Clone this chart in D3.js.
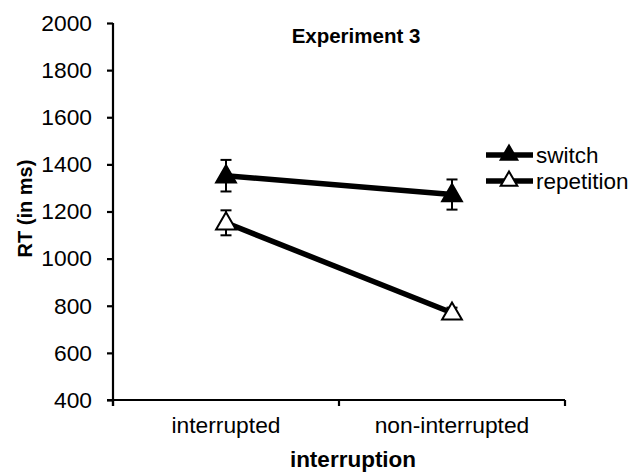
<!DOCTYPE html>
<html><head><meta charset="utf-8">
<script src="https://cdn.jsdelivr.net/npm/d3@7"></script>
<style>body{margin:0;background:#fff}svg{display:block}text{font-family:"Liberation Sans",Arial,sans-serif;fill:#000}</style>
</head><body><svg id="c" width="644" height="472"></svg>
<script>
const categories = ["interrupted", "non-interrupted"];
const seriesNames = ["switch", "repetition"];
const switchRT = [1352, 1272];
const switchErr = [67, 64];
const repetitionRT = [1152, 770];
const repetitionErr = [53, 22];
const yTicks = [400, 600, 800, 1000, 1200, 1400, 1600, 1800, 2000];

const series = [
  {name: seriesNames[0], values: switchRT, err: switchErr, fill: "#000"},
  {name: seriesNames[1], values: repetitionRT, err: repetitionErr, fill: "#fff"}
];

const svg = d3.select("#c");
const L = 113, R = 565, T = 23, B = 400;
const x = d3.scaleBand().domain(categories).range([L, R]);
const y = d3.scaleLinear().domain([400, 2000]).range([B, T]);
const cx = c => x(c) + x.bandwidth() / 2;

// axes
const yAx = svg.append("g").attr("transform", `translate(${L},0)`)
  .call(d3.axisLeft(y).tickValues(yTicks).tickSize(6).tickPadding(15).tickFormat(d3.format("d")));
const xAx = svg.append("g").attr("transform", `translate(0,${B})`)
  .call(d3.axisBottom(x).tickSize(0).tickPadding(17));
[yAx, xAx].forEach(g => {
  g.select(".domain").attr("stroke", "#000").attr("stroke-width", 2.2);
  g.selectAll("text").style("font-size", "22.8px").style("font-family", "Liberation Sans, Arial, sans-serif");
});
yAx.selectAll(".tick line").attr("stroke-width", 2.2);
yAx.select(".domain").attr("d", `M0,${T}V${B + 6}`);
xAx.select(".domain").attr("d", `M${L - 6},0H${R}`);
// x ticks at band edges
xAx.selectAll(".xt").data([L, ...categories.map(c => x(c) + x.bandwidth())]).enter()
  .append("line").attr("x1", d => d).attr("x2", d => d).attr("y1", 0).attr("y2", 6)
  .attr("stroke", "#000").attr("stroke-width", 2.2);

const tri = d3.symbol().type(d3.symbolTriangle).size(170);

series.forEach(s => {
  const g = svg.append("g");
  const pts = categories.map((c, i) => [cx(c), y(s.values[i])]);
  g.append("path").attr("d", d3.line()(pts)).attr("fill", "none")
    .attr("stroke", "#000").attr("stroke-width", 5.5);
  categories.forEach((c, i) => {
    const X = cx(c), y1 = y(s.values[i] + s.err[i]), y2 = y(s.values[i] - s.err[i]);
    g.append("line").attr("x1", X).attr("x2", X).attr("y1", y1).attr("y2", y2).attr("stroke", "#000").attr("stroke-width", 2);
    [y1, y2].forEach(yy => g.append("line").attr("x1", X - 5.5).attr("x2", X + 5.5).attr("y1", yy).attr("y2", yy).attr("stroke", "#000").attr("stroke-width", 2));
    g.append("path").attr("d", tri).attr("transform", `translate(${X},${y(s.values[i]) + 1})`)
      .attr("fill", s.fill).attr("stroke", "#000").attr("stroke-width", 2);
  });
});

// legend
const lg = svg.append("g");
series.forEach((s, i) => {
  const yy = 155 + i * 26;
  lg.append("line").attr("x1", 486).attr("x2", 533).attr("y1", yy).attr("y2", yy).attr("stroke", "#000").attr("stroke-width", 5.5);
  lg.append("path").attr("d", d3.symbol().type(d3.symbolTriangle).size(120)).attr("transform", `translate(509,${yy})`)
    .attr("fill", s.fill).attr("stroke", "#000").attr("stroke-width", 2);
  lg.append("text").attr("x", 536).attr("y", yy).attr("dy", "0.35em").style("font-size", "22.5px").text(s.name);
});

svg.append("text").attr("x", 356).attr("y", 43).attr("text-anchor", "middle")
  .style("font-size", "20.5px").style("font-weight", "bold").text("Experiment 3");
svg.append("text").attr("x", 353).attr("y", 467).attr("text-anchor", "middle")
  .style("font-size", "22.5px").style("font-weight", "bold").text("interruption");
svg.append("text").attr("transform", `translate(32,${(T + B) / 2 - 3}) rotate(-90)`).attr("text-anchor", "middle")
  .style("font-size", "20px").style("font-weight", "bold").text("RT (in ms)");
</script></body></html>
